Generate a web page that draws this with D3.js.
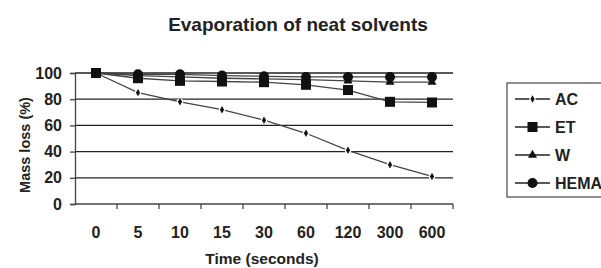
<!DOCTYPE html>
<html>
<head>
<meta charset="utf-8">
<script src="https://cdn.jsdelivr.net/npm/d3@7"></script>
<style>
  body { margin: 0; background: #fff; }
  svg { display: block; font-family: Arial, "Liberation Sans", sans-serif; font-weight: bold; }
</style>
</head>
<body>
<div id="chart"></div>
<script>
const times = ['0', '5', '10', '15', '30', '60', '120', '300', '600'];
const yTicks = [0, 20, 40, 60, 80, 100];

const acValues = [100, 85, 78, 72, 64, 54, 41, 30, 21];
const etValues = [100, 96, 94, 93.5, 93, 91, 87, 78, 77.5];
const wValues = [100, 98, 97, 96, 95.5, 95, 94, 93, 93];
const hemaValues = [100, 99, 99, 98, 97.5, 97, 97, 97, 97];

const seriesNames = ['AC', 'ET', 'W', 'HEMA'];
const seriesValues = [acValues, etValues, wValues, hemaValues];

const width = 601, height = 268;
const margin = { left: 75, right: 148, top: 73, bottom: 64 };

const svg = d3.select('#chart').append('svg')
    .attr('width', width)
    .attr('height', height);

const x = d3.scaleBand()
    .domain(times)
    .range([margin.left, width - margin.right]);

const y = d3.scaleLinear()
    .domain([0, 100])
    .range([height - margin.bottom, margin.top]);

// title
svg.append('text')
    .attr('x', 298)
    .attr('y', 31)
    .attr('text-anchor', 'middle')
    .attr('font-size', '19px')
    .attr('fill', '#222')
    .text('Evaporation of neat solvents');

// gridlines
svg.append('g')
    .selectAll('line')
    .data(yTicks.filter(d => d > 0))
    .enter().append('line')
    .attr('x1', margin.left)
    .attr('x2', width - margin.right)
    .attr('y1', d => y(d))
    .attr('y2', d => y(d))
    .attr('stroke', '#222')
    .attr('stroke-width', 1.3);

// y axis
const yAxis = svg.append('g')
    .attr('transform', `translate(${margin.left},0)`)
    .call(d3.axisLeft(y).tickValues(yTicks).tickSize(5).tickPadding(8));
yAxis.select('.domain').attr('stroke', '#444').attr('stroke-width', 1.3);
yAxis.selectAll('.tick line').attr('stroke', '#444').attr('stroke-width', 1.3);
yAxis.selectAll('text')
    .attr('font-size', '16px')
    .attr('font-weight', 'bold')
    .attr('font-family', 'Arial, "Liberation Sans", sans-serif')
    .attr('fill', '#222');

// x axis with ticks at band edges
const xAxisG = svg.append('g')
    .attr('transform', `translate(0,${y(0)})`);
xAxisG.append('line')
    .attr('x1', margin.left)
    .attr('x2', width - margin.right)
    .attr('stroke', '#444')
    .attr('stroke-width', 1.3);
const edges = times.map(t => x(t)).concat([x(times[times.length - 1]) + x.bandwidth()]);
xAxisG.selectAll('.edge')
    .data(edges.slice(1))
    .enter().append('line')
    .attr('x1', d => d)
    .attr('x2', d => d)
    .attr('y1', 0)
    .attr('y2', 5)
    .attr('stroke', '#444')
    .attr('stroke-width', 1.3);
xAxisG.selectAll('text')
    .data(times)
    .enter().append('text')
    .attr('x', d => x(d) + x.bandwidth() / 2)
    .attr('y', 34)
    .attr('text-anchor', 'middle')
    .attr('font-size', '16px')
    .attr('fill', '#222')
    .text(d => d);

// axis titles
svg.append('text')
    .attr('x', 262)
    .attr('y', 264)
    .attr('text-anchor', 'middle')
    .attr('font-size', '15.5px')
    .attr('fill', '#222')
    .text('Time (seconds)');

svg.append('text')
    .attr('transform', `translate(30,145) rotate(-90)`)
    .attr('text-anchor', 'middle')
    .attr('font-size', '14.5px')
    .attr('fill', '#222')
    .text('Mass loss (%)');

// markers
function drawMarker(sel, name) {
    if (name === 'AC') {
        sel.append('circle').attr('r', 3.2).attr('fill', '#fff');
        sel.append('path').attr('d', d3.symbol(d3.symbolDiamond, 16)()).attr('fill', '#111');
    } else if (name === 'ET') {
        sel.append('rect').attr('x', -5).attr('y', -5).attr('width', 10).attr('height', 10).attr('fill', '#111');
    } else if (name === 'W') {
        sel.append('path').attr('d', d3.symbol(d3.symbolTriangle, 36)()).attr('fill', '#111');
    } else {
        sel.append('circle').attr('r', 5).attr('fill', '#111');
    }
}

const line = d3.line()
    .x((d, i) => x(times[i]) + x.bandwidth() / 2)
    .y(d => y(d));

// lines back to front, then markers with ET on top
[3, 2, 1, 0].forEach(k => {
    svg.append('path')
        .datum(seriesValues[k])
        .attr('d', line)
        .attr('fill', 'none')
        .attr('stroke', '#444')
        .attr('stroke-width', 1.3);
});
[0, 3, 2, 1].forEach(k => {
    svg.append('g')
        .selectAll('g')
        .data(seriesValues[k])
        .enter().append('g')
        .attr('transform', (d, i) => `translate(${x(times[i]) + x.bandwidth() / 2},${y(d)})`)
        .each(function () { drawMarker(d3.select(this), seriesNames[k]); });
});

// legend
const legend = svg.append('g').attr('transform', 'translate(507,83)');
legend.append('rect')
    .attr('width', 100)
    .attr('height', 114)
    .attr('fill', '#fff')
    .attr('stroke', '#555')
    .attr('stroke-width', 1.3);

const item = legend.selectAll('.legend-item')
    .data(seriesNames)
    .enter().append('g')
    .attr('class', 'legend-item')
    .attr('transform', (d, i) => `translate(0,${16 + i * 28})`);

item.append('line')
    .attr('x1', 8)
    .attr('x2', 43)
    .attr('stroke', '#222')
    .attr('stroke-width', 1.3);

item.append('g')
    .attr('transform', 'translate(25.5,0)')
    .each(function (d) { drawMarker(d3.select(this), d); });

item.append('text')
    .attr('x', 48)
    .attr('dy', '0.36em')
    .attr('font-size', '16px')
    .attr('fill', '#222')
    .text(d => d);
</script>
</body>
</html>
